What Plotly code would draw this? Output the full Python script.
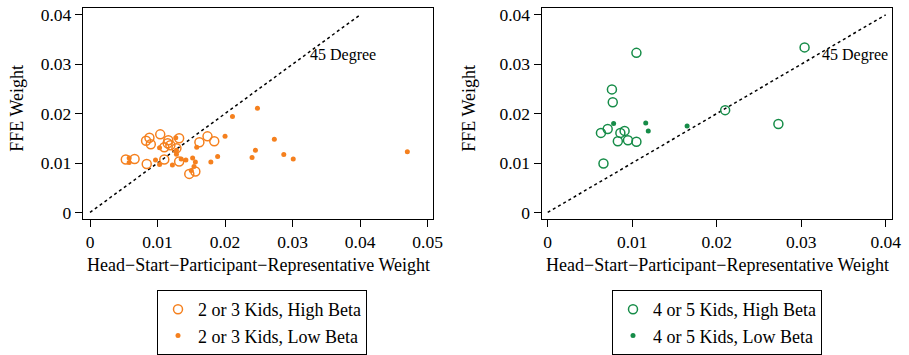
import plotly.graph_objects as go

# ---- data ----
left_high_x = [0.0053, 0.0066, 0.0083, 0.0088, 0.0090, 0.0084, 0.0104, 0.0110, 0.0116, 0.0115,
               0.0110, 0.0119, 0.0128, 0.0132, 0.0132, 0.0162, 0.0174, 0.0184, 0.0147, 0.0156]
left_high_y = [0.0107, 0.0108, 0.0145, 0.0151, 0.0138, 0.0098, 0.0158, 0.0107, 0.0146, 0.0140,
               0.0132, 0.0136, 0.0130, 0.0150, 0.0103, 0.0142, 0.0154, 0.0144, 0.0078, 0.0083]
left_low_x = [0.0058, 0.0058, 0.0097, 0.0103, 0.0103, 0.0122, 0.0128, 0.0128, 0.0127, 0.0135,
              0.0142, 0.0152, 0.0156, 0.0158, 0.0150, 0.0154, 0.0179, 0.0189, 0.0200, 0.0211,
              0.0248, 0.0245, 0.0240, 0.0273, 0.0287, 0.0301, 0.0470]
left_low_y = [0.0101, 0.0110, 0.0106, 0.0097, 0.0131, 0.0096, 0.0118, 0.0126, 0.0151, 0.0108,
              0.0106, 0.0110, 0.0102, 0.0132, 0.0085, 0.0093, 0.0102, 0.0113, 0.0154, 0.0194,
              0.0211, 0.0126, 0.0111, 0.0148, 0.0117, 0.0108, 0.0123]
right_high_x = [0.0105, 0.0076, 0.0077, 0.0063, 0.0071, 0.0086, 0.0091, 0.0083, 0.0095, 0.0105,
                0.0066, 0.0304, 0.0210, 0.0273]
right_high_y = [0.0323, 0.0249, 0.0223, 0.0161, 0.0169, 0.0161, 0.0165, 0.0144, 0.0146, 0.0143,
                0.0099, 0.0334, 0.0207, 0.0179]
right_low_x = [0.0078, 0.0116, 0.0119, 0.0165]
right_low_y = [0.0180, 0.0181, 0.0165, 0.0175]

diag = [0, 0.04]
left_xticks = [0, 0.01, 0.02, 0.03, 0.04, 0.05]
left_xticklabels = ["0", "0.01", "0.02", "0.03", "0.04", "0.05"]
right_xticks = [0, 0.01, 0.02, 0.03, 0.04]
right_xticklabels = ["0", "0.01", "0.02", "0.03", "0.04"]
yticks = [0, 0.01, 0.02, 0.03, 0.04]
yticklabels = ["0", "0.01", "0.02", "0.03", "0.04"]

ORANGE = "#f5801e"
GREEN = "#168c48"
FONT = "Liberation Serif"
W, H = 909, 355

fig = go.Figure()

def add_panel(xa, ya, hx, hy, lx, ly, color, names, legend):
    fig.add_trace(go.Scatter(x=diag, y=diag, mode="lines", xaxis=xa, yaxis=ya,
                             line=dict(color="black", dash="dot", width=1.5),
                             showlegend=False, hoverinfo="skip"))
    fig.add_trace(go.Scatter(x=hx, y=hy, mode="markers", xaxis=xa, yaxis=ya, name=names[0],
                             legend=legend,
                             marker=dict(symbol="circle-open", size=9, color=color,
                                         line=dict(width=1.5, color=color))))
    fig.add_trace(go.Scatter(x=lx, y=ly, mode="markers", xaxis=xa, yaxis=ya, name=names[1],
                             legend=legend,
                             marker=dict(symbol="circle", size=5, color=color)))

add_panel("x", "y", left_high_x, left_high_y, left_low_x, left_low_y, ORANGE,
          ["2 or 3 Kids, High Beta", "2 or 3 Kids, Low Beta"], "legend")
add_panel("x2", "y2", right_high_x, right_high_y, right_low_x, right_low_y, GREEN,
          ["4 or 5 Kids, High Beta", "4 or 5 Kids, Low Beta"], "legend2")

ydom = [1 - 223 / H, 1 - 8 / H]
axis_common = dict(showgrid=False, zeroline=False, showline=True, linecolor="black",
                   linewidth=1.3, mirror=True, ticks="outside", ticklen=7, tickwidth=1.3,
                   tickcolor="black", tickfont=dict(family=FONT, size=17.5, color="black"),
                   automargin=False)

def ann(text, x, y, xref="paper", yref="paper", size=18, angle=0):
    return dict(text=text, x=x, y=y, xref=xref, yref=yref, showarrow=False,
                xanchor="center", yanchor="middle", textangle=angle,
                font=dict(family=FONT, size=size, color="black"))

fig.update_layout(
    width=W, height=H,
    margin=dict(l=0, r=0, t=0, b=0),
    paper_bgcolor="white", plot_bgcolor="white",
    font=dict(family=FONT, size=18, color="black"),
    xaxis=dict(domain=[83 / W, 433 / W], range=[-0.00104, 0.0508],
               tickvals=left_xticks, ticktext=left_xticklabels, anchor="y", **axis_common),
    yaxis=dict(domain=ydom, range=[-0.00125, 0.04141],
               tickvals=yticks, ticktext=yticklabels, anchor="x", **axis_common),
    xaxis2=dict(domain=[541.7 / W, 891.7 / W], range=[-0.00071, 0.04071],
                tickvals=right_xticks, ticktext=right_xticklabels, anchor="y2", **axis_common),
    yaxis2=dict(domain=ydom, range=[-0.00125, 0.04141],
                tickvals=yticks, ticktext=yticklabels, anchor="x2", **axis_common),
    legend=dict(x=157 / W, y=1 - 296 / H, xanchor="left", yanchor="top",
                bordercolor="black", borderwidth=1, bgcolor="white",
                font=dict(family=FONT, size=18, color="black"), tracegroupgap=0),
    legend2=dict(x=612 / W, y=1 - 296 / H, xanchor="left", yanchor="top",
                 bordercolor="black", borderwidth=1, bgcolor="white",
                 font=dict(family=FONT, size=18, color="black"), tracegroupgap=0),
    annotations=[
        ann("45 Degree", 0.0375, 0.0319, "x", "y", size=16),
        ann("45 Degree", 0.0364, 0.0318, "x2", "y2", size=16),
        ann("FFE Weight", 17 / W, 1 - 111 / H, angle=-90),
        ann("FFE Weight", 469 / W, 1 - 111 / H, angle=-90),
        ann("Head\u2212Start\u2212Participant\u2212Representative Weight", 258 / W, 1 - 270 / H),
        ann("Head\u2212Start\u2212Participant\u2212Representative Weight", 717 / W, 1 - 270 / H),
    ],
)

fig.write_html("out.html", post_script="document.body.style.margin='0px';",
               config={"displayModeBar": False})
